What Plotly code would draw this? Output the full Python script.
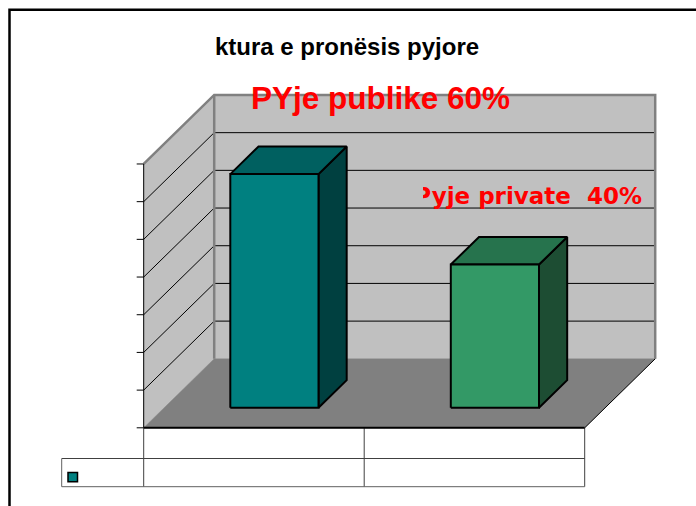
import plotly.graph_objects as go

# ---------------- data ----------------
categories = ["Pyje publike", "Pyje private"]
values = [62, 38]
value_ticks = [0, 10, 20, 30, 40, 50, 60, 70]
title_text = "ktura e pronësis pyjore"
label_public = "PYje publike 60%"
label_private = "Pyje private\u00a0\u00a040%"
front_colors = ["#008080", "#339966"]
top_colors = ["#006060", "#26734D"]
side_colors = ["#004040", "#1D4D33"]

# ---------------- geometry (3D oblique projection) ----------------
W, H = 696, 506
X0PX, XSCALE = 143.7, 220.5      # px of category 0, px per category unit
Y0PX, YSCALE = 427.8, 3.769      # px of value 0, px per value unit
DX_PX, DY_PX = 70.5, 69.0         # depth offset of back wall (px)
DX = DX_PX / XSCALE
DV = DY_PX / YSCALE
VMAX = value_ticks[-1]
NCAT = len(categories)
BAR_HALF = 0.2
D0, D1 = 0.29, 0.69


def P(x, v, d):
    return x + d * DX, v + d * DV


def poly(pts):
    xs = [p[0] for p in pts] + [pts[0][0]]
    ys = [p[1] for p in pts] + [pts[0][1]]
    return xs, ys


def px2x(px):
    return (px - X0PX) / XSCALE


def py2v(py):
    return (Y0PX - py) / YSCALE


fig = go.Figure()


def add_poly(pts, fill, line_color=None, line_width=0):
    xs, ys = poly(pts)
    fig.add_trace(go.Scatter(
        x=xs, y=ys, mode="lines", fill="toself", fillcolor=fill,
        line=dict(color=line_color or fill, width=line_width if line_width else 0.5),
        hoverinfo="skip", showlegend=False))


def add_line(pts, color, width):
    fig.add_trace(go.Scatter(
        x=[p[0] for p in pts], y=[p[1] for p in pts], mode="lines",
        line=dict(color=color, width=width), hoverinfo="skip", showlegend=False))


# walls and floor
add_poly([P(0, 0, 0), P(0, 0, 1), P(0, VMAX, 1), P(0, VMAX, 0)], "#C0C0C0")
add_poly([P(0, 0, 1), P(NCAT, 0, 1), P(NCAT, VMAX, 1), P(0, VMAX, 1)], "#C0C0C0")
add_poly([P(0, 0, 0), P(NCAT, 0, 0), P(NCAT, 0, 1), P(0, 0, 1)], "#808080")

# gridlines
for v in value_ticks[1:-1]:
    add_line([P(0, v, 0), P(0, v, 1), P(NCAT, v, 1)], "#000000", 1)

# wall edges
add_line([P(0, 0, 1), P(0, VMAX, 1)], "#808080", 2.5)
add_line([P(0, VMAX, 0), P(0, VMAX, 1), P(NCAT, VMAX, 1), P(NCAT, 0, 1)], "#808080", 2.5)

# floor edges
add_line([P(NCAT, 0, 0), P(NCAT, 0, 1)], "#000000", 1)

# value axis + ticks
add_line([P(0, 0, 0), P(0, VMAX, 0)], "#000000", 1)
tick_len = 7 / XSCALE
for v in value_ticks:
    add_line([(-tick_len, v), (0, v)], "#000000", 1)

# bars
for i, h in enumerate(values):
    c = i + 0.5
    l, r = c - BAR_HALF, c + BAR_HALF
    add_poly([P(r, 0, D0), P(r, 0, D1), P(r, h, D1), P(r, h, D0)], side_colors[i], "#000000", 2)
    add_poly([P(l, h, D0), P(r, h, D0), P(r, h, D1), P(l, h, D1)], top_colors[i], "#000000", 2)
    add_poly([P(l, 0, D0), P(r, 0, D0), P(r, h, D0), P(l, h, D0)], front_colors[i], "#000000", 2)

# data table below the floor
row1 = py2v(458.5)
row2 = py2v(486.7)
legend_left = px2x(61.7)
shapes = []
for k in range(NCAT + 1):
    shapes.append(dict(type="line", x0=k, x1=k, y0=0, y1=row2,
                       line=dict(color="#404040", width=1)))
shapes.append(dict(type="line", x0=legend_left, x1=NCAT, y0=row1, y1=row1,
                   line=dict(color="#404040", width=1)))
shapes.append(dict(type="line", x0=legend_left, x1=NCAT, y0=row2, y1=row2,
                   line=dict(color="#606060", width=1)))
shapes.append(dict(type="line", x0=legend_left, x1=legend_left, y0=row1, y1=row2,
                   line=dict(color="#606060", width=1)))
# floor front edge (on top of table lines)
shapes.append(dict(type="line", x0=-0.0, x1=NCAT, y0=0, y1=0,
                   line=dict(color="#000000", width=2)))
# legend key
shapes.append(dict(type="rect", x0=px2x(68), x1=px2x(77.5), y0=py2v(472.5), y1=py2v(481.7),
                   fillcolor=front_colors[0], line=dict(color="#000000", width=1.5)))
# outer chart border
shapes.append(dict(type="rect", xref="paper", yref="paper",
                   x0=9.5 / W, x1=1.05, y0=1 - 9.8 / H, y1=-0.05,
                   line=dict(color="#000000", width=2.5), fillcolor="rgba(0,0,0,0)"))

annotations = [
    dict(text="<b>" + title_text + "</b>", xref="paper", yref="paper",
         x=347 / W, y=1 - 46.3 / H, xanchor="center", yanchor="middle", showarrow=False,
         font=dict(family="Liberation Sans, Arial", size=24, color="#000000")),
    dict(text="<b>" + label_public + "</b>", xref="paper", yref="paper",
         x=380 / W, y=1 - 97.6 / H, xanchor="center", yanchor="middle", showarrow=False,
         font=dict(family="Liberation Sans, Arial", size=31.5, color="#FF0000")),
    dict(text="<b>" + label_private + "</b>", xref="paper", yref="paper",
         x=423 / W, y=1 - 196 / H, xanchor="left", yanchor="middle", showarrow=False,
         width=219, align="right", borderpad=0, borderwidth=0,
         font=dict(family="DejaVu Sans", size=23, color="#FF0000")),
]

fig.update_layout(
    width=W, height=H, margin=dict(l=0, r=0, t=0, b=0),
    paper_bgcolor="#FFFFFF", plot_bgcolor="#FFFFFF",
    xaxis=dict(range=[px2x(0), px2x(W)], visible=False, fixedrange=True),
    yaxis=dict(range=[py2v(H), py2v(0)], visible=False, fixedrange=True),
    shapes=shapes, annotations=annotations, showlegend=False,
)

fig.write_html("out.html")
